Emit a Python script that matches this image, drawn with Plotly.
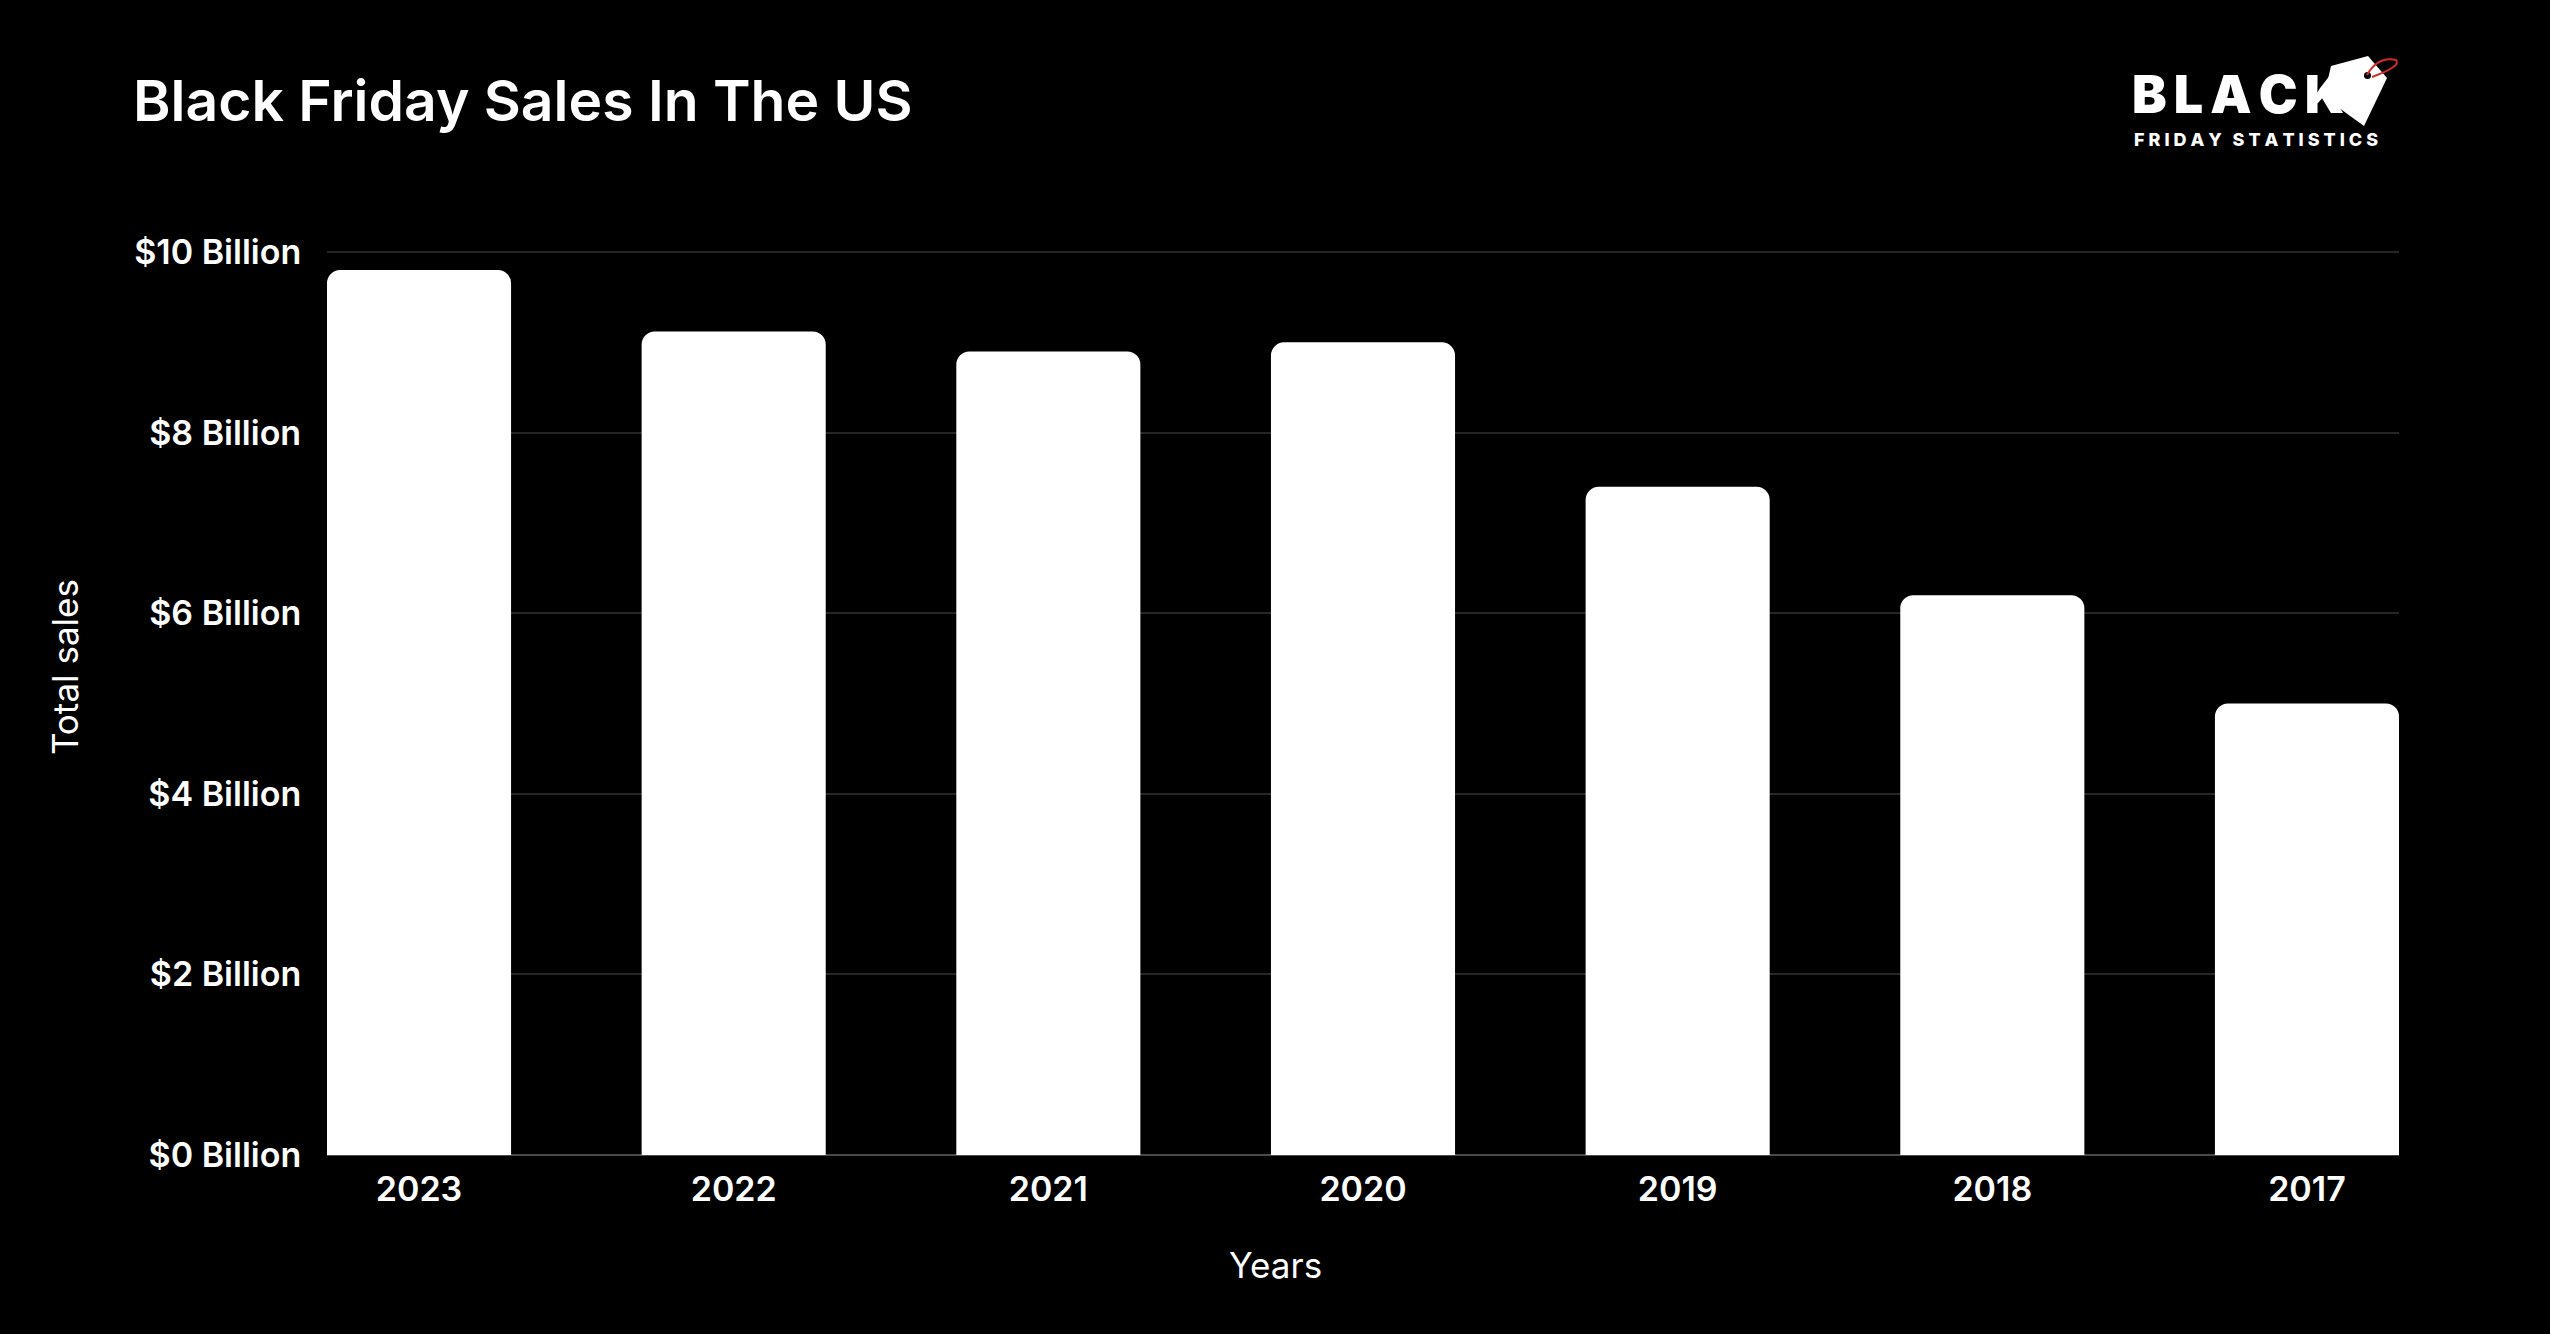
import plotly.graph_objects as go

years = ["2023", "2022", "2021", "2020", "2019", "2018", "2017"]
sales_billion = [9.8, 9.12, 8.9, 9.0, 7.4, 6.2, 5.0]
y_ticks = [0, 2, 4, 6, 8, 10]
y_tick_labels = ["$0 Billion", "$2 Billion", "$4 Billion", "$6 Billion", "$8 Billion", "$10 Billion"]

W, H = 2550, 1334
L, R, T, B = 327, 151, 248, 179
PW, PH = W - L - R, H - T - B
Y_TOP = 10.045


def px(x):
    return (x - L) / PW


def py(y):
    return (H - B - y) / PH


FONT = "Inter"
bargap = 0.415
half = (1 - bargap) / 2

fig = go.Figure(
    go.Bar(
        x=years,
        y=sales_billion,
        marker=dict(color="#ffffff", cornerradius=13, line=dict(width=0)),
        hoverinfo="x+y",
    )
)

fig.update_layout(
    width=W,
    height=H,
    paper_bgcolor="#000000",
    plot_bgcolor="#000000",
    margin=dict(l=L, r=R, t=T, b=B, autoexpand=False),
    bargap=bargap,
    showlegend=False,
    font=dict(family=FONT, color="#ffffff", size=32),
    title=dict(
        text="Black Friday Sales In The US",
        font=dict(family=FONT, size=57, color="#ffffff", weight=600),
        xref="container",
        yref="container",
        x=133 / W,
        xanchor="left",
        y=1 - 101 / H,
        yanchor="middle",
    ),
    xaxis=dict(
        type="category",
        range=[-half, len(years) - 1 + half],
        showgrid=False,
        showline=False,
        zeroline=False,
        ticks="outside",
        ticklen=4,
        tickcolor="rgba(0,0,0,0)",
        tickfont=dict(family=FONT, size=34, color="#ffffff", weight=600),
        automargin=False,
        fixedrange=True,
    ),
    yaxis=dict(
        range=[0, Y_TOP],
        tickvals=y_ticks,
        ticktext=y_tick_labels,
        showgrid=True,
        gridcolor="#262626",
        gridwidth=2,
        zeroline=True,
        zerolinecolor="#4a4a4a",
        zerolinewidth=2,
        showline=False,
        ticks="outside",
        ticklen=18,
        tickcolor="rgba(0,0,0,0)",
        tickfont=dict(family=FONT, size=34, color="#ffffff", weight=600),
        automargin=False,
        fixedrange=True,
    ),
)

# Axis titles (centred on the whole canvas, as in the reference)
fig.add_annotation(
    text="Years", xref="paper", yref="paper", x=px(W / 2), y=py(1265),
    xanchor="center", yanchor="middle", showarrow=False,
    font=dict(family=FONT, size=35, color="#ffffff"),
)
fig.add_annotation(
    text="Total sales", xref="paper", yref="paper", x=px(65), y=py(H / 2),
    xanchor="center", yanchor="middle", showarrow=False, textangle=-90,
    font=dict(family=FONT, size=35, color="#ffffff"),
)

# Logo (decorative)
tag_pts = [(2331, 66), (2368, 56), (2387, 78), (2364, 126), (2324, 97)]
path = "M " + " L ".join(f"{px(x):.5f},{py(y):.5f}" for x, y in tag_pts) + " Z"
fig.add_shape(type="path", path=path, xref="paper", yref="paper",
              fillcolor="#ffffff", line=dict(width=0), layer="above")
fig.add_shape(type="circle", xref="paper", yref="paper",
              x0=px(2364), x1=px(2371), y0=py(72), y1=py(79),
              fillcolor="#000000", line=dict(width=0))
loop = (f"M {px(2367):.5f},{py(75):.5f} Q {px(2378):.5f},{py(56):.5f} {px(2396):.5f},{py(60):.5f} "
        f"Q {px(2402):.5f},{py(66):.5f} {px(2372):.5f},{py(77):.5f}")
fig.add_shape(type="path", path=loop, xref="paper", yref="paper",
              line=dict(color="#d42a2a", width=2))

fig.add_annotation(
    text="\u2009".join("BLACK"), xref="paper", yref="paper", x=px(2131), y=py(127),
    xanchor="left", yanchor="bottom", showarrow=False, borderpad=0,
    font=dict(family=FONT, size=52, color="#ffffff", weight=900),
)
fig.add_annotation(
    text="\u2009\u200a".join("FRIDAY STATISTICS").replace(" \u2009\u200a", "\u2009\u2009\u200a"),
    xref="paper", yref="paper", x=px(2133), y=py(128),
    xanchor="left", yanchor="top", showarrow=False, borderpad=0,
    font=dict(family=FONT, size=18, color="#ffffff", weight=800),
)

fig.write_html("out.html", config={"displayModeBar": False})

with open("out.html", encoding="utf-8") as f:
    html = f.read()
html = html.replace("<body>", '<body style="margin:0;background:#000">', 1)
with open("out.html", "w", encoding="utf-8") as f:
    f.write(html)
